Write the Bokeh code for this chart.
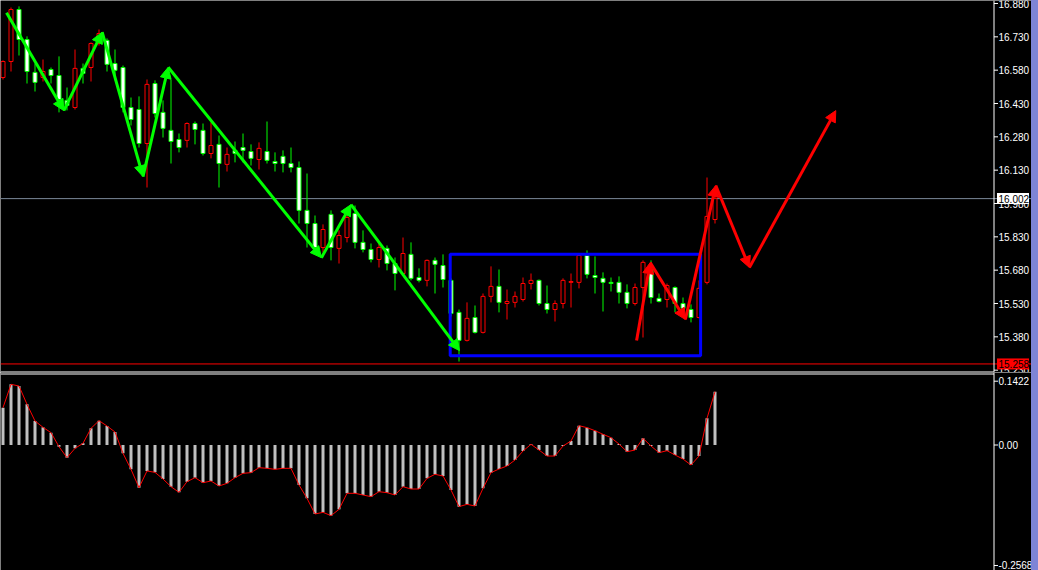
from bokeh.plotting import figure
from bokeh.models import (ColumnDataSource, Range1d, Span, Arrow, NormalHead, Div)
from bokeh.layouts import column, row
from bokeh.embed import file_html
from bokeh.resources import INLINE
from bokeh.core.properties import value

# ---------------- data ----------------
opens = [16.547, 16.619, 16.853, 16.718, 16.570, 16.547, 16.583, 16.556, 16.444, 16.412,
         16.588, 16.592, 16.700, 16.714, 16.610, 16.592, 16.412, 16.403, 16.250, 16.520,
         16.390, 16.309, 16.268, 16.264, 16.340, 16.309, 16.205, 16.246, 16.156, 16.219,
         16.232, 16.214, 16.178, 16.214, 16.169, 16.192, 16.160, 16.142, 15.949, 15.890,
         15.782, 15.931, 15.778, 15.827, 15.935, 15.805, 15.773, 15.728, 15.778, 15.710,
         15.665, 15.751, 15.647, 15.634, 15.724, 15.701, 15.634, 15.490, 15.364, 15.467,
         15.400, 15.562, 15.607, 15.530, 15.535, 15.548, 15.620, 15.634, 15.530, 15.503,
         15.530, 15.625, 15.625, 15.746, 15.656, 15.643, 15.625, 15.625, 15.580, 15.530,
         15.602, 15.683, 15.553, 15.548, 15.602, 15.530, 15.503, 15.467, 15.625, 15.908]
closes = [16.619, 16.853, 16.718, 16.574, 16.525, 16.574, 16.556, 16.448, 16.421, 16.588,
          16.565, 16.700, 16.745, 16.606, 16.579, 16.412, 16.358, 16.250, 16.516, 16.385,
          16.318, 16.259, 16.232, 16.340, 16.313, 16.205, 16.241, 16.160, 16.201, 16.205,
          16.219, 16.183, 16.228, 16.174, 16.160, 16.160, 16.142, 15.949, 15.890, 15.782,
          15.863, 15.782, 15.836, 15.917, 15.805, 15.773, 15.728, 15.782, 15.710, 15.665,
          15.755, 15.643, 15.634, 15.724, 15.706, 15.638, 15.485, 15.364, 15.463, 15.400,
          15.562, 15.607, 15.535, 15.539, 15.562, 15.620, 15.634, 15.530, 15.503, 15.530,
          15.634, 15.629, 15.746, 15.661, 15.647, 15.625, 15.620, 15.580, 15.530, 15.602,
          15.715, 15.557, 15.539, 15.611, 15.530, 15.508, 15.467, 15.598, 15.922, 16.002]
highs = [16.624, 16.862, 16.867, 16.732, 16.610, 16.628, 16.592, 16.642, 16.502, 16.673,
         16.610, 16.705, 16.763, 16.723, 16.673, 16.601, 16.457, 16.462, 16.538, 16.534,
         16.444, 16.538, 16.295, 16.345, 16.349, 16.340, 16.345, 16.286, 16.232, 16.259,
         16.295, 16.246, 16.255, 16.349, 16.210, 16.219, 16.232, 16.169, 16.115, 15.926,
         15.886, 15.949, 15.859, 15.949, 15.971, 15.859, 15.800, 15.800, 15.791, 15.737,
         15.827, 15.805, 15.688, 15.728, 15.737, 15.751, 15.643, 15.503, 15.535, 15.521,
         15.575, 15.697, 15.683, 15.593, 15.584, 15.647, 15.665, 15.638, 15.611, 15.544,
         15.643, 15.665, 15.751, 15.769, 15.742, 15.670, 15.647, 15.652, 15.616, 15.620,
         15.724, 15.724, 15.575, 15.620, 15.607, 15.557, 15.526, 15.634, 16.097, 16.048]
lows = [16.538, 16.574, 16.646, 16.520, 16.484, 16.529, 16.520, 16.390, 16.399, 16.403,
        16.520, 16.529, 16.691, 16.574, 16.534, 16.390, 16.331, 16.232, 16.052, 16.367,
        16.277, 16.160, 16.210, 16.232, 16.246, 16.196, 16.183, 16.052, 16.124, 16.165,
        16.165, 16.151, 16.133, 16.160, 16.124, 16.120, 16.120, 15.890, 15.782, 15.760,
        15.760, 15.724, 15.710, 15.805, 15.778, 15.760, 15.715, 15.692, 15.679, 15.589,
        15.656, 15.634, 15.625, 15.607, 15.575, 15.602, 15.472, 15.269, 15.359, 15.395,
        15.395, 15.535, 15.490, 15.458, 15.512, 15.539, 15.593, 15.521, 15.485, 15.449,
        15.508, 15.512, 15.598, 15.643, 15.575, 15.494, 15.584, 15.530, 15.508, 15.521,
        15.377, 15.530, 15.535, 15.512, 15.490, 15.490, 15.445, 15.463, 15.616, 15.890]

macd = [0.0759, 0.1233, 0.1199, 0.0827, 0.0488, 0.0359, 0.0251, -0.0034, -0.0257, -0.0068,
        0.0034, 0.0339, 0.0495, 0.0386, 0.0264, -0.0169, -0.0495, -0.0867, -0.0528, -0.0556,
        -0.0691, -0.0847, -0.0962, -0.0745, -0.0664, -0.0766, -0.0732, -0.0833, -0.0779, -0.0664,
        -0.0576, -0.0562, -0.0461, -0.0474, -0.0495, -0.0474, -0.0474, -0.0813, -0.1084, -0.1402,
        -0.1369, -0.1436, -0.1308, -0.0982, -0.0982, -0.1016, -0.1050, -0.0949, -0.0969, -0.1016,
        -0.0847, -0.0894, -0.0894, -0.0678, -0.0596, -0.0630, -0.0915, -0.1253, -0.1206, -0.1240,
        -0.0881, -0.0562, -0.0488, -0.0427, -0.0305, -0.0122, 0.0014, -0.0102, -0.0224, -0.0224,
        -0.0020, 0.0081, 0.0393, 0.0352, 0.0291, 0.0217, 0.0149, 0.0020, -0.0136, -0.0102,
        0.0136, -0.0020, -0.0156, -0.0115, -0.0203, -0.0285, -0.0407, -0.0224, 0.0542, 0.1084]

# zigzag drawings (bar index, price)
green_x = [0.44, 7.6, 12.4, 17.5, 20.65, 39.8, 43.5, 57.06]
green_y = [16.838, 16.398, 16.751, 16.101, 16.593, 15.736, 15.975, 15.318]
red_x = [79.2, 80.9, 85.3, 89.1, 93.3, 104.1]
red_y = [15.363, 15.714, 15.458, 16.061, 15.692, 16.398]

# range box (bar index, price)
box_left = [55.9]
box_right = [87.2]
box_top = [15.752]
box_bottom = [15.295]

bid_price = 16.002
bid_label = "16.002"
level_price = 15.258
level_label = "15.258"

price_ticks = [16.880, 16.730, 16.580, 16.430, 16.280, 16.130, 15.980, 15.830, 15.680,
               15.530, 15.380, 15.230]
price_tick_labels = ["16.880", "16.730", "16.580", "16.430", "16.280", "16.130", "15.980",
                     "15.830", "15.680", "15.530", "15.380", "15.230"]
macd_tick_pos = [0.1297, 0.0, -0.2449]
macd_tick_labels = ["0.1422", "0.00", "-0.2568"]

# ---------------- layout / styling ----------------
FONT = "Liberation Sans"
UP = "#FF0000"
DOWN = "#00FF00"
FIG_W = 1031
TOP_H = 372
BOT_H = 198
PX = 1 / 8.0                     # bar-index units per pixel
X_LO = -0.3125
X_HI = X_LO + FIG_W * PX
AXIS_X = 123.875                 # right price-scale border
P_PX = 0.0045                    # price per pixel (upper pane)
P_HI = 16.8935
P_LO = P_HI - TOP_H * P_PX
M_PX = 1 / 492.0                 # indicator units per pixel
M_HI = 0.14736
M_LO = M_HI - BOT_H * M_PX

idx = list(range(len(opens)))
is_up = [c >= o for o, c in zip(opens, closes)]
src = ColumnDataSource(dict(
    x=idx, h=highs, l=lows,
    top=[max(o, c) for o, c in zip(opens, closes)],
    bottom=[min(o, c) for o, c in zip(opens, closes)],
    fill=["black" if u else "white" for u in is_up],
    line=[UP if u else DOWN for u in is_up],
))

x_range = Range1d(X_LO, X_HI)


def base_fig(h, y_lo, y_hi):
    f = figure(width=FIG_W, height=h, x_range=x_range, y_range=Range1d(y_lo, y_hi),
               output_backend="svg", toolbar_location=None,
               x_axis_location=None, y_axis_location=None,
               background_fill_color="black", border_fill_color="black",
               min_border_left=0, min_border_top=0, min_border_right=0, min_border_bottom=0,
               outline_line_color=None)
    f.grid.visible = False
    f.add_layout(Span(location=AXIS_X, dimension="height", line_color="white", line_width=1))
    return f


def scale_labels(f, ticks, labels):
    n = len(ticks)
    f.segment(x0=[AXIS_X] * n, x1=[AXIS_X + 4 * PX] * n, y0=ticks, y1=ticks,
              line_color="white", line_width=1)
    f.text(x=[AXIS_X + 4.5 * PX] * n, y=ticks, text=labels, text_font=value(FONT),
           text_font_size="10px", text_color="white", text_baseline="middle",
           text_align="left")


def price_box(f, y, label, bg):
    f.rect(x=[AXIS_X + 19 * PX], y=[y], width=32, height=11, width_units="screen",
           height_units="screen", fill_color=bg, line_color=None)
    f.text(x=[AXIS_X + 4.5 * PX], y=[y], text=[label], text_font=value(FONT),
           text_font_size="10px", text_color="black", text_baseline="middle",
           text_align="left")


# ---- upper pane ----
p = base_fig(TOP_H, P_LO, P_HI)
p.add_layout(Span(location=bid_price, dimension="width", line_color="#7B8899",
                  line_width=1, level="underlay"))
p.add_layout(Span(location=level_price, dimension="width", line_color="#FF0000",
                  line_width=1, level="underlay"))
# pane separator
p.segment(x0=[X_LO], x1=[AXIS_X], y0=[P_LO + 0.5 * P_PX], y1=[P_LO + 0.5 * P_PX],
          line_color="white", line_width=1)

p.segment(x0="x", y0="l", x1="x", y1="h", line_color="line", line_width=1, source=src)
p.vbar(x="x", top="top", bottom="bottom", width=0.5, fill_color="fill",
       line_color="line", line_width=1, source=src)

p.quad(left=box_left, right=box_right, top=box_top, bottom=box_bottom,
       fill_alpha=0, line_color="#0000FF", line_width=3)


def zigzag(fig, xs, ys, color):
    s = ColumnDataSource(dict(x0=xs[:-1], y0=ys[:-1], x1=xs[1:], y1=ys[1:]))
    fig.add_layout(Arrow(end=NormalHead(size=11, fill_color=color, line_color=color, line_width=1),
                         x_start="x0", y_start="y0", x_end="x1", y_end="y1",
                         line_color=color, line_width=3, source=s))


zigzag(p, green_x, green_y, DOWN)
zigzag(p, red_x, red_y, UP)

scale_labels(p, price_ticks, price_tick_labels)
price_box(p, bid_price, bid_label, "white")
price_box(p, level_price, level_label, "#FF0000")

# ---- indicator pane ----
q = base_fig(BOT_H, M_LO, M_HI)
q.segment(x0=[X_LO], x1=[AXIS_X], y0=[M_HI - 1.5 * M_PX], y1=[M_HI - 1.5 * M_PX],
          line_color="white", line_width=1)
q.vbar(x=idx, top=macd, bottom=0, width=0.375, fill_color="#C0C0C0", line_color=None)
q.line(idx, macd, line_color="#FF0000", line_width=1)
scale_labels(q, macd_tick_pos, macd_tick_labels)

strip = Div(width=7, height=TOP_H + BOT_H, styles={"background-color": "#7E84D6"}, margin=0)

layout = row(column(p, q, spacing=0), strip, spacing=0)

open("out.html", "w").write(file_html(layout, INLINE))
